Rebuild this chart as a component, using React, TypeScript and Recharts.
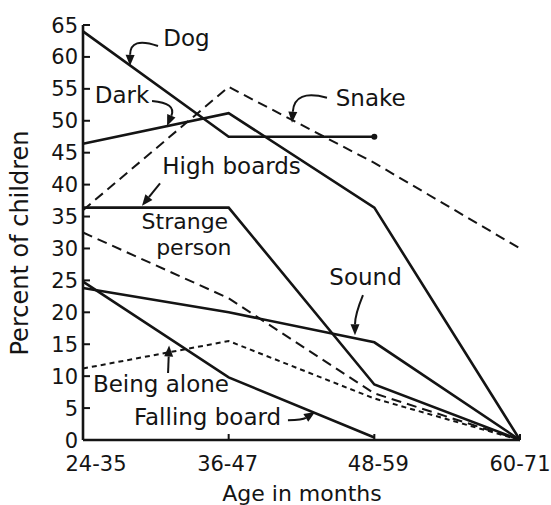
import React from 'react';
import { LineChart, Line, XAxis, YAxis, ReferenceLine, ReferenceDot, Customized } from 'recharts';

const categories = ['24-35', '36-47', '48-59', '60-71'];
const dog = [64, 47.5, 47.5, null];
const dark = [46.4, 51.2, 36.4, 0];
const snake = [36, 55.3, 43.4, 30];
const highBoards = [36.4, 36.4, 8.7, 0];
const strangePerson = [32.5, 22.2, 7.3, 0];
const beingAlone = [11.2, 15.5, 6.5, 0];
const sound = [23.8, 20, 15.3, 0];
const fallingBoard = [24.8, 9.8, 0.4, null];
const yTicks = [0, 5, 10, 15, 20, 25, 30, 35, 40, 45, 50, 55, 60, 65];

const data = categories.map((cat, i) => ({
  i,
  cat,
  dog: dog[i],
  dark: dark[i],
  snake: snake[i],
  highBoards: highBoards[i],
  strangePerson: strangePerson[i],
  beingAlone: beingAlone[i],
  sound: sound[i],
  fallingBoard: fallingBoard[i],
}));

const INK = '#141414';
const FONT = '"DejaVu Sans", sans-serif';

const series = [
  { key: 'dog', dash: undefined, width: 2.6 },
  { key: 'dark', dash: undefined, width: 2.6 },
  { key: 'snake', dash: '10 6', width: 2 },
  { key: 'highBoards', dash: undefined, width: 2.6 },
  { key: 'strangePerson', dash: '10 6', width: 2 },
  { key: 'beingAlone', dash: '5 4', width: 2 },
  { key: 'sound', dash: undefined, width: 2.6 },
  { key: 'fallingBoard', dash: undefined, width: 2.6 },
];

// annotation text centres (category-index, percent of baseline of first line)
const labelTexts = ['Dog', 'Dark', 'Snake', 'High boards', 'Strange\nperson', 'Sound', 'Being alone', 'Falling board'];
const labelX = [0.71, 0.268, 1.975, 1.02, 0.72, 1.94, 0.535, 0.855];
const labelY = [61.7, 52.8, 52.3, 41.7, 33.1, 24.2, 7.5, 2.3];

// arrows: start -> tip (category-index, percent), bend in px
const arrowX1 = [0.515, 0.474, 1.675, 0.529, 1.922, 0.584, 1.407];
const arrowY1 = [61.7, 53.1, 53.6, 40.2, 22.7, 10.5, 3.1];
const arrowX2 = [0.323, 0.577, 1.435, 0.405, 1.867, 0.591, 1.593];
const arrowY2 = [58.6, 49.2, 49.7, 36.7, 16.4, 14.8, 4.4];
const arrowBend = [12, -10, 13, 0, 2, 0, 2];

const makeArrow = (bend: number) => (props: any) => {
  const { x1, y1, x2, y2 } = props;
  const dx = x2 - x1;
  const dy = y2 - y1;
  const len = Math.hypot(dx, dy) || 1;
  const nx = -dy / len;
  const ny = dx / len;
  const cx = (x1 + x2) / 2 + 2 * bend * nx;
  const cy = (y1 + y2) / 2 + 2 * bend * ny;
  const tx = x2 - cx;
  const ty = y2 - cy;
  const tl = Math.hypot(tx, ty) || 1;
  const ux = tx / tl;
  const uy = ty / tl;
  const headL = 11;
  const headW = 4.5;
  const bx = x2 - ux * headL;
  const by = y2 - uy * headL;
  const p1 = `${bx + -uy * headW},${by + ux * headW}`;
  const p2 = `${bx - -uy * headW},${by - ux * headW}`;
  return (
    <g>
      <path d={`M${x1},${y1} Q${cx},${cy} ${bx},${by}`} fill="none" stroke={INK} strokeWidth={2} />
      <polygon points={`${x2},${y2} ${p1} ${p2}`} fill={INK} />
    </g>
  );
};

const YTick = (props: any) => {
  const { x, y, payload } = props;
  return (
    <g>
      <line x1={x + 5} x2={x + 12} y1={y} y2={y} stroke={INK} strokeWidth={2} />
      <text x={x} y={y} dy="0.36em" textAnchor="end" fontFamily={FONT} fontSize={21} fill={INK}>
        {payload.value}
      </text>
    </g>
  );
};

const xOffsets = [13, -1, 4, 0];
const XTick = (props: any) => {
  const { x, y, payload } = props;
  const idx = Math.round(payload.value);
  return (
    <g>
      <line x1={x} x2={x} y1={y - 12} y2={y - 18} stroke={INK} strokeWidth={2} />
      <text x={x + xOffsets[idx]} y={y + 19} textAnchor="middle" fontFamily={FONT} fontSize={21} fill={INK}>
        {categories[idx]}
      </text>
    </g>
  );
};

const Titles = () => (
  <g>
    <text x={302} y={501} textAnchor="middle" fontFamily={FONT} fontSize={22} fill={INK}>
      Age in months
    </text>
    <text x={28} y={243} transform="rotate(-90, 28, 243)" textAnchor="middle" fontFamily={FONT} fontSize={24} fill={INK}>
      Percent of children
    </text>
  </g>
);

export default function App() {
  return (
    <div style={{ position: 'absolute', left: 0, top: 0, background: '#fff' }}>
      <LineChart width={551} height={505} data={data} margin={{ top: 25, right: 31, bottom: 35, left: 0 }}>
        <XAxis
          dataKey="i"
          type="number"
          domain={[0, 3]}
          ticks={[0, 1, 2, 3]}
          interval={0}
          height={30}
          tickSize={0}
          tickMargin={12}
          tickLine={false}
          tick={<XTick />}
          axisLine={{ stroke: INK, strokeWidth: 2.6 }}
        />
        <YAxis
          type="number"
          domain={[0, 65]}
          ticks={yTicks}
          interval={0}
          width={83}
          tickSize={0}
          tickMargin={5}
          tickLine={false}
          tick={<YTick />}
          axisLine={{ stroke: INK, strokeWidth: 2.6 }}
        />
        {series.map((s) => (
          <Line
            key={s.key}
            dataKey={s.key}
            type="linear"
            stroke={INK}
            strokeWidth={s.width}
            strokeDasharray={s.dash}
            isAnimationActive={false}
            connectNulls={false}
            activeDot={false}
            dot={
              s.key === 'dog'
                ? (p: any) =>
                    p.index === 2 ? (
                      <circle key={`d${p.index}`} cx={p.cx} cy={p.cy} r={3} fill={INK} />
                    ) : (
                      <g key={`d${p.index}`} />
                    )
                : false
            }
          />
        ))}
        {arrowX1.map((_, k) => (
          <ReferenceLine
            key={`a${k}`}
            segment={[
              { x: arrowX1[k], y: arrowY1[k] },
              { x: arrowX2[k], y: arrowY2[k] },
            ]}
            shape={makeArrow(arrowBend[k])}
          />
        ))}
        {labelTexts.map((t, k) => {
          const lines = t.split('\n');
          const multi = lines.length > 1;
          return (
            <ReferenceDot
              key={`l${k}`}
              x={labelX[k]}
              y={labelY[k]}
              r={0}
              shape={(p: any) => (
                <text
                  x={p.cx}
                  y={p.cy}
                  textAnchor="middle"
                  fontFamily={FONT}
                  fontSize={multi ? 22 : 23}
                  fill={INK}
                >
                  {lines.map((line, j) => (
                    <tspan key={j} x={p.cx + (multi ? (j === 0 ? -3 : 6) : 0)} dy={j === 0 ? 0 : 26}>
                      {line}
                    </tspan>
                  ))}
                </text>
              )}
            />
          );
        })}
        <Customized component={<Titles />} />
      </LineChart>
    </div>
  );
}
